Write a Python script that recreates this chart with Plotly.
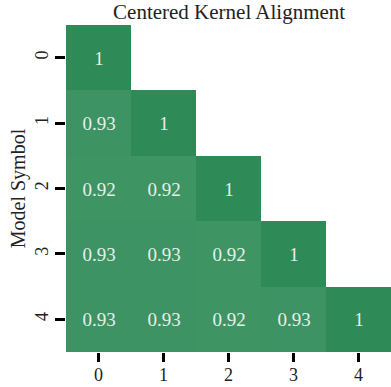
import plotly.graph_objects as go

labels = ["0", "1", "2", "3", "4"]
row0 = [1.0, None, None, None, None]
row1 = [0.93, 1.0, None, None, None]
row2 = [0.92, 0.92, 1.0, None, None]
row3 = [0.93, 0.93, 0.92, 1.0, None]
row4 = [0.93, 0.93, 0.92, 0.93, 1.0]
z = [row0, row1, row2, row3, row4]

text = [["" if v is None else ("%g" % v) for v in row] for row in z]

font_family = "Liberation Serif"

fig = go.Figure(go.Heatmap(
    z=z, x=labels, y=labels,
    zmin=0, zmax=1,
    colorscale=[[0, "#ffffff"], [1, "#2e8b57"]],
    showscale=False,
    text=text,
    texttemplate="%{text}",
    textfont=dict(family=font_family, size=19, color="#e6f0e8"),
    hoverongaps=False,
))

fig.update_layout(
    width=391, height=387,
    margin=dict(l=66, r=0, t=25, b=35),
    paper_bgcolor="white", plot_bgcolor="white",
    font=dict(family=font_family, size=18, color="#222"),
    title=dict(text="Centered Kernel Alignment", x=0.586, xanchor="center",
               y=0.988, yanchor="top", font=dict(size=21, family=font_family, color="#222")),
)
fig.update_xaxes(type="category", ticks="outside", ticklen=9, tickwidth=2.5, tickcolor="black",
                 showgrid=False, zeroline=False, showline=False, automargin=False,
                 ticklabelstandoff=-3,
                 tickfont=dict(size=18, family=font_family, color="#222"))
fig.update_yaxes(type="category", autorange="reversed", ticks="outside", ticklen=10, tickwidth=2.5,
                 tickcolor="black", tickangle=-90, showgrid=False, zeroline=False, showline=False,
                 automargin=False,
                 title=dict(text="Model Symbol", standoff=0, font=dict(size=20, family=font_family, color="#222")),
                 tickfont=dict(size=18, family=font_family, color="#222"))

fig.write_html("out.html", config={"displayModeBar": False},
               post_script="document.body.style.margin='0';")
